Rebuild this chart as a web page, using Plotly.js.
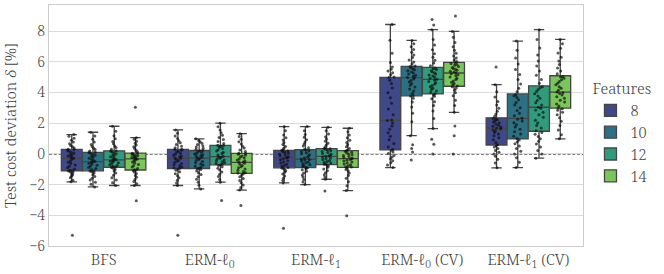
<!DOCTYPE html>
<html>
<head>
<meta charset="utf-8">
<script src="https://cdn.plot.ly/plotly-3.0.1.min.js"></script>
<style>html,body{margin:0;padding:0;background:#fff;}#chart{width:664px;height:274px;}</style>
</head>
<body>
<div id="chart"></div>
<script>
const categories = ['BFS', 'ERM-ℓ<sub>0</sub>', 'ERM-ℓ<sub>1</sub>', 'ERM-ℓ<sub>0</sub> (CV)', 'ERM-ℓ<sub>1</sub> (CV)'];
const features = ['8', '10', '12', '14'];
const featureColors = ['#3f4889', '#2b7183', '#2e9c7c', '#79c65b'];

// BFS
const BFS_8 = [-1.82,-1.71,-1.55,-1.46,-1.38,-1.30,-1.22,-1.17,-1.12,-1.09,-1.07,-0.98,-0.90,-0.81,-0.72,-0.63,-0.55,-0.46,-0.37,-0.29,-0.27,-0.20,-0.14,-0.08,-0.02,0.05,0.11,0.18,0.24,0.29,0.31,0.38,0.47,0.55,0.66,0.78,0.89,1.02,1.15,1.26,-5.30];
const BFS_10 = [-2.15,-1.98,-1.84,-1.70,-1.58,-1.47,-1.36,-1.25,-1.17,-1.11,-1.09,-1.02,-0.95,-0.88,-0.80,-0.74,-0.67,-0.61,-0.56,-0.51,-0.49,-0.42,-0.36,-0.29,-0.22,-0.15,-0.08,-0.02,0.05,0.09,0.11,0.19,0.28,0.37,0.49,0.62,0.78,0.95,1.16,1.41];
const BFS_12 = [-2.06,-1.88,-1.70,-1.55,-1.39,-1.25,-1.12,-1.01,-0.93,-0.88,-0.86,-0.81,-0.75,-0.70,-0.64,-0.58,-0.53,-0.48,-0.43,-0.40,-0.38,-0.32,-0.25,-0.19,-0.12,-0.06,0.01,0.08,0.14,0.19,0.21,0.30,0.41,0.52,0.66,0.81,0.98,1.19,1.47,1.80];
const BFS_14 = [-2.06,-1.94,-1.80,-1.66,-1.52,-1.40,-1.28,-1.18,-1.10,-1.05,-1.03,-0.95,-0.86,-0.78,-0.69,-0.61,-0.53,-0.46,-0.39,-0.34,-0.32,-0.28,-0.24,-0.20,-0.16,-0.12,-0.08,-0.04,0.00,0.03,0.05,0.14,0.24,0.35,0.46,0.58,0.70,0.82,0.95,1.06,3.04,-3.05];
// ERM-l0
const L0_8 = [-2.06,-1.90,-1.72,-1.56,-1.42,-1.29,-1.17,-1.07,-0.99,-0.94,-0.92,-0.85,-0.77,-0.70,-0.62,-0.55,-0.48,-0.41,-0.35,-0.29,-0.27,-0.20,-0.14,-0.08,-0.01,0.05,0.12,0.18,0.24,0.29,0.31,0.40,0.50,0.61,0.73,0.86,1.00,1.16,1.35,1.56,-5.30];
const L0_10 = [-2.28,-2.05,-1.84,-1.65,-1.49,-1.35,-1.22,-1.11,-1.02,-0.96,-0.94,-0.87,-0.80,-0.72,-0.65,-0.58,-0.50,-0.43,-0.36,-0.29,-0.27,-0.22,-0.16,-0.11,-0.06,0.00,0.05,0.11,0.16,0.21,0.23,0.30,0.37,0.45,0.53,0.61,0.70,0.79,0.88,0.98];
const L0_12 = [-1.84,-1.66,-1.48,-1.32,-1.18,-1.05,-0.94,-0.84,-0.76,-0.70,-0.68,-0.62,-0.57,-0.51,-0.45,-0.39,-0.34,-0.28,-0.23,-0.18,-0.16,-0.07,0.02,0.10,0.19,0.27,0.35,0.43,0.50,0.55,0.57,0.68,0.80,0.93,1.07,1.22,1.38,1.56,1.77,2.00,-3.04];
const L0_14 = [-2.36,-2.19,-2.03,-1.88,-1.74,-1.61,-1.49,-1.39,-1.30,-1.25,-1.23,-1.15,-1.07,-0.99,-0.91,-0.83,-0.75,-0.68,-0.61,-0.55,-0.53,-0.47,-0.40,-0.34,-0.27,-0.21,-0.14,-0.08,-0.02,0.03,0.05,0.15,0.26,0.38,0.50,0.64,0.79,0.95,1.13,1.32,-3.36];
// ERM-l1
const L1_8 = [-1.89,-1.74,-1.58,-1.44,-1.31,-1.20,-1.10,-1.01,-0.94,-0.90,-0.88,-0.81,-0.74,-0.67,-0.60,-0.52,-0.45,-0.38,-0.31,-0.25,-0.23,-0.18,-0.12,-0.07,-0.02,0.04,0.09,0.14,0.19,0.23,0.25,0.36,0.48,0.61,0.75,0.90,1.06,1.23,1.50,1.78,-4.84];
const L1_10 = [-2.00,-1.83,-1.66,-1.51,-1.37,-1.24,-1.13,-1.03,-0.95,-0.90,-0.88,-0.82,-0.76,-0.70,-0.64,-0.58,-0.52,-0.46,-0.40,-0.36,-0.34,-0.27,-0.20,-0.13,-0.06,0.01,0.08,0.15,0.21,0.27,0.29,0.40,0.52,0.64,0.78,0.92,1.08,1.26,1.50,1.78];
const L1_12 = [-1.65,-1.50,-1.36,-1.22,-1.10,-0.99,-0.89,-0.80,-0.73,-0.68,-0.66,-0.60,-0.55,-0.49,-0.43,-0.37,-0.31,-0.26,-0.21,-0.16,-0.14,-0.08,-0.02,0.03,0.09,0.15,0.21,0.26,0.31,0.34,0.36,0.47,0.58,0.70,0.83,0.97,1.12,1.29,1.50,1.73,-2.41];
const L1_14 = [-2.39,-2.08,-1.81,-1.58,-1.40,-1.25,-1.12,-1.01,-0.92,-0.86,-0.84,-0.78,-0.71,-0.65,-0.59,-0.53,-0.47,-0.41,-0.36,-0.31,-0.29,-0.23,-0.17,-0.11,-0.06,0.00,0.06,0.11,0.17,0.21,0.23,0.35,0.47,0.60,0.74,0.89,1.05,1.23,1.44,1.67,-4.03];
// ERM-l0 (CV)
const L0CV_8 = [-0.89,-0.72,-0.58,-0.45,-0.31,-0.20,-0.10,0.02,0.13,0.24,0.28,0.45,0.68,0.92,1.15,1.38,1.60,1.82,2.01,2.17,2.21,2.55,2.92,3.30,3.65,3.98,4.30,4.58,4.80,4.97,5.01,5.15,5.28,5.40,5.52,5.66,5.95,6.55,7.40,8.43];
const L0CV_10 = [1.19,2.10,2.65,3.05,3.38,3.62,3.77,3.80,3.95,4.10,4.22,4.35,4.47,4.58,4.68,4.78,4.88,4.96,4.98,5.06,5.13,5.20,5.27,5.34,5.41,5.48,5.55,5.62,5.69,5.72,5.85,5.98,6.12,6.28,6.45,6.62,6.80,6.98,7.18,7.39,0.60,0.35,0.12,-0.39];
const L0CV_12 = [0.00,0.63,0.95,1.65,2.30,2.80,3.15,3.40,3.60,3.75,3.86,3.92,4.01,4.10,4.19,4.28,4.37,4.46,4.55,4.64,4.72,4.80,4.86,4.93,5.00,5.07,5.14,5.21,5.28,5.35,5.42,5.49,5.55,5.60,5.75,5.92,6.10,6.30,6.52,6.78,7.10,7.45,8.09,8.40,8.76];
const L0CV_14 = [0.00,1.19,1.82,2.71,3.15,3.50,3.78,3.98,4.15,4.28,4.37,4.42,4.50,4.58,4.66,4.75,4.84,4.93,5.01,5.09,5.16,5.22,5.27,5.33,5.39,5.45,5.51,5.57,5.63,5.70,5.77,5.83,5.89,5.94,6.02,6.12,6.24,6.38,6.55,6.75,6.98,7.25,7.60,7.98,8.98];
// ERM-l1 (CV)
const L1CV_8 = [-0.91,-0.60,-0.35,-0.15,0.00,0.10,0.22,0.35,0.45,0.53,0.59,0.75,0.92,1.05,1.18,1.30,1.40,1.49,1.56,1.62,1.67,1.74,1.80,1.87,1.94,2.01,2.08,2.15,2.22,2.28,2.32,2.45,2.60,2.78,2.97,3.18,3.42,3.70,4.05,4.51,5.66];
const L1CV_10 = [-0.89,-0.55,-0.25,0.00,0.18,0.35,0.52,0.66,0.79,0.90,1.00,1.15,1.30,1.45,1.60,1.75,1.90,2.03,2.15,2.25,2.32,2.48,2.65,2.82,3.00,3.18,3.35,3.52,3.67,3.78,3.86,4.05,4.28,4.55,4.85,5.18,5.50,5.85,6.25,6.75,7.35];
const L1CV_12 = [-0.28,0.00,0.22,0.45,0.65,0.82,0.98,1.14,1.28,1.40,1.50,1.68,1.85,2.02,2.20,2.38,2.55,2.72,2.86,2.97,3.04,3.18,3.33,3.48,3.62,3.77,3.92,4.07,4.20,4.31,4.38,4.60,4.85,5.12,5.40,5.72,6.05,6.45,6.90,7.45,8.09];
const L1CV_14 = [0.98,1.25,1.55,1.85,2.12,2.35,2.55,2.72,2.85,2.94,2.99,3.12,3.25,3.38,3.50,3.62,3.73,3.84,3.93,3.99,4.03,4.15,4.27,4.38,4.50,4.61,4.72,4.83,4.93,5.01,5.05,5.22,5.40,5.60,5.82,6.05,6.30,6.58,6.88,7.18,7.46];

const seriesByFeature = {
  '8':  [BFS_8,  L0_8,  L1_8,  L0CV_8,  L1CV_8],
  '10': [BFS_10, L0_10, L1_10, L0CV_10, L1CV_10],
  '12': [BFS_12, L0_12, L1_12, L0CV_12, L1CV_12],
  '14': [BFS_14, L0_14, L1_14, L0CV_14, L1CV_14]
};

const FONT = 'Noto Serif';
const TXT = '#404040';

const traces = features.map((f, i) => {
  const xs = [], ys = [];
  seriesByFeature[f].forEach((arr, ci) => {
    arr.forEach(v => { xs.push(categories[ci]); ys.push(v); });
  });
  return {
    type: 'box',
    name: f,
    x: xs,
    y: ys,
    boxpoints: 'all',
    pointpos: 0,
    jitter: 0.45,
    whiskerwidth: 0.5,
    fillcolor: featureColors[i],
    line: {color: '#454545', width: 1.3},
    marker: {color: 'rgba(15,15,15,0.7)', size: 3, line: {width: 0}},
    hoverinfo: 'skip'
  };
});

const layout = {
  width: 664,
  height: 274,
  margin: {l: 49, r: 81, t: 5, b: 28},
  paper_bgcolor: '#ffffff',
  plot_bgcolor: '#ffffff',
  font: {family: FONT, size: 14, color: TXT, weight: 300},
  boxmode: 'group',
  boxgap: 0.2,
  boxgroupgap: 0.02,
  showlegend: true,
  legend: {
    x: 1.014, xanchor: 'left', y: 0.71, yanchor: 'top',
    title: {text: 'Features', font: {family: FONT, size: 15, color: TXT, weight: 300}},
    font: {family: FONT, size: 14.5, color: TXT, weight: 300},
    bgcolor: 'rgba(0,0,0,0)',
    tracegroupgap: 0
  },
  xaxis: {
    type: 'category',
    categoryorder: 'array',
    categoryarray: categories,
    showgrid: false,
    zeroline: false,
    showline: true,
    mirror: true,
    linecolor: '#cccccc',
    linewidth: 1,
    ticks: '',
    tickfont: {family: FONT, size: 15, color: TXT, weight: 300}
  },
  yaxis: {
    range: [-6, 9.7],
    tickvals: [-6, -4, -2, 0, 2, 4, 6, 8],
    showgrid: true,
    gridcolor: '#dcdcdc',
    gridwidth: 1,
    zeroline: false,
    showline: true,
    mirror: true,
    linecolor: '#cccccc',
    linewidth: 1,
    ticks: '',
    tickfont: {family: FONT, size: 14, color: TXT, weight: 300},
    title: {text: 'Test cost deviation <i>δ</i> [%]', font: {family: FONT, size: 15, color: TXT, weight: 300}, standoff: 9}
  },
  shapes: [{
    type: 'line', xref: 'paper', x0: 0, x1: 1, yref: 'y', y0: 0, y1: 0,
    line: {color: '#000000', width: 1.1, dash: '3px,1.8px'},
    layer: 'between'
  }]
};

Plotly.newPlot('chart', traces, layout, {staticPlot: true, displayModeBar: false});
</script>
</body>
</html>
